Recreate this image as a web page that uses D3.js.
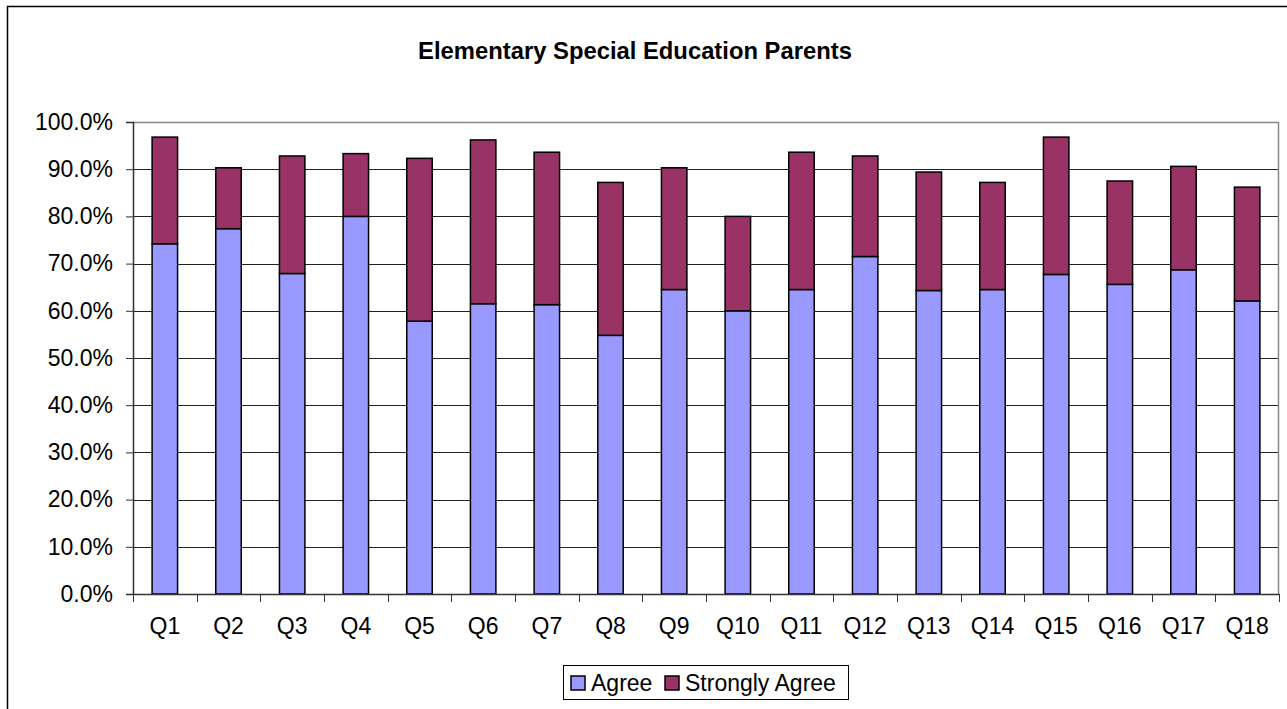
<!DOCTYPE html>
<html>
<head>
<meta charset="utf-8">
<script src="https://cdn.jsdelivr.net/npm/d3@7"></script>
<style>
  body { margin: 0; background: #fff; }
  svg { display: block; font-family: Arial, "Liberation Sans", sans-serif; }
</style>
</head>
<body>
<div id="chart"></div>
<script>
// Data
var questions = ["Q1", "Q2", "Q3", "Q4", "Q5", "Q6", "Q7", "Q8", "Q9",
  "Q10", "Q11", "Q12", "Q13", "Q14", "Q15", "Q16", "Q17", "Q18"];
var agree = [0.742, 0.774, 0.679, 0.800, 0.578, 0.615, 0.613, 0.548, 0.645,
  0.600, 0.645, 0.715, 0.643, 0.645, 0.677, 0.656, 0.687, 0.621];
var stronglyAgree = [0.226, 0.129, 0.249, 0.133, 0.345, 0.347, 0.323, 0.324, 0.258,
  0.200, 0.291, 0.213, 0.251, 0.227, 0.291, 0.219, 0.219, 0.241];
var seriesNames = ["Agree", "Strongly Agree"];
var yTicks = [0, 0.1, 0.2, 0.3, 0.4, 0.5, 0.6, 0.7, 0.8, 0.9, 1.0];

var svgWidth = 1287;
var svgHeight = 709;
var margin = { top: 122, right: 8, bottom: 115, left: 133 };
var chartWidth = 1279 - margin.left;
var chartHeight = 594 - margin.top;
var colors = ["#9999FF", "#993366"];

var svg = d3.select("#chart")
  .append("svg")
  .attr("width", svgWidth)
  .attr("height", svgHeight);

// outer chart border (runs off the right and bottom edges)
svg.append("rect")
  .attr("x", 7.5).attr("y", 6.5)
  .attr("width", svgWidth + 10).attr("height", svgHeight + 10)
  .attr("fill", "none").attr("stroke", "#000").attr("stroke-width", 1.5);

svg.append("text")
  .attr("x", 635).attr("y", 59)
  .attr("text-anchor", "middle")
  .attr("font-size", "23.8px").attr("font-weight", "bold")
  .text("Elementary Special Education Parents");

var chartGroup = svg.append("g")
  .attr("transform", `translate(${margin.left}, ${margin.top})`);

var xScale = d3.scaleBand()
  .domain(questions)
  .range([0, chartWidth])
  .paddingInner(0.6)
  .paddingOuter(0.3);

var yScale = d3.scaleLinear()
  .domain([0, 1])
  .range([chartHeight, 0]);

// gridlines
chartGroup.selectAll(".grid")
  .data(yTicks.slice(1, -1))
  .enter()
  .append("line")
  .attr("x1", 0).attr("x2", chartWidth)
  .attr("y1", d => Math.round(yScale(d)) + 0.5)
  .attr("y2", d => Math.round(yScale(d)) + 0.5)
  .attr("stroke", "#222");

// plot area top/right border in grey
chartGroup.append("path")
  .attr("d", `M0,0.5H${chartWidth - 0.5}V${chartHeight}`)
  .attr("fill", "none").attr("stroke", "#888").attr("stroke-width", 1.5);

// stacked bars
var rows = questions.map((q, i) => ({ q: q, Agree: agree[i], "Strongly Agree": stronglyAgree[i] }));
var stacked = d3.stack().keys(seriesNames)(rows);

chartGroup.selectAll(".series")
  .data(stacked)
  .enter()
  .append("g")
  .attr("fill", (d, i) => colors[i])
  .selectAll("rect")
  .data(d => d)
  .enter()
  .append("rect")
  .attr("x", d => xScale(d.data.q))
  .attr("y", d => yScale(d[1]))
  .attr("width", xScale.bandwidth())
  .attr("height", d => yScale(d[0]) - yScale(d[1]))
  .attr("stroke", "#000")
  .attr("stroke-width", 1.5);

// y axis
var leftAxis = d3.axisLeft(yScale)
  .tickValues(yTicks)
  .tickFormat(d3.format(".1%"))
  .tickSize(7)
  .tickPadding(13);

var yAxisG = chartGroup.append("g").call(leftAxis);
yAxisG.select(".domain").attr("stroke", "#333").attr("stroke-width", 1.5);
yAxisG.selectAll("line").attr("stroke", "#333");
yAxisG.selectAll("text").attr("font-size", "23px").attr("font-family", null).attr("fill", "#000");

// x axis with ticks on category boundaries
var bottomAxis = d3.axisBottom(xScale).tickSize(0).tickPadding(24);
var xAxisG = chartGroup.append("g")
  .attr("transform", `translate(0, ${chartHeight})`)
  .call(bottomAxis);
xAxisG.select(".domain").attr("stroke", "#333").attr("stroke-width", 1.5);
xAxisG.selectAll("text").attr("font-size", "23px").attr("font-family", null).attr("fill", "#000");

chartGroup.selectAll(".xtick")
  .data(d3.range(questions.length + 1))
  .enter()
  .append("line")
  .attr("x1", i => Math.round(i * xScale.step()) + 0.5)
  .attr("x2", i => Math.round(i * xScale.step()) + 0.5)
  .attr("y1", chartHeight)
  .attr("y2", chartHeight + 8)
  .attr("stroke", "#333");

// legend
var legend = svg.append("g");
legend.append("rect")
  .attr("x", 563.5).attr("y", 665.5)
  .attr("width", 285).attr("height", 34)
  .attr("fill", "#fff").attr("stroke", "#000");

var legendX = [571, 665];
var legendItems = legend.selectAll(".item")
  .data(seriesNames)
  .enter()
  .append("g")
  .attr("transform", (d, i) => `translate(${legendX[i]}, 676)`);

legendItems.append("rect")
  .attr("width", 14).attr("height", 14)
  .attr("fill", (d, i) => colors[i])
  .attr("stroke", "#000").attr("stroke-width", 1.5);

legendItems.append("text")
  .attr("x", 20).attr("y", 15)
  .attr("font-size", "23px")
  .text(d => d);
</script>
</body>
</html>
